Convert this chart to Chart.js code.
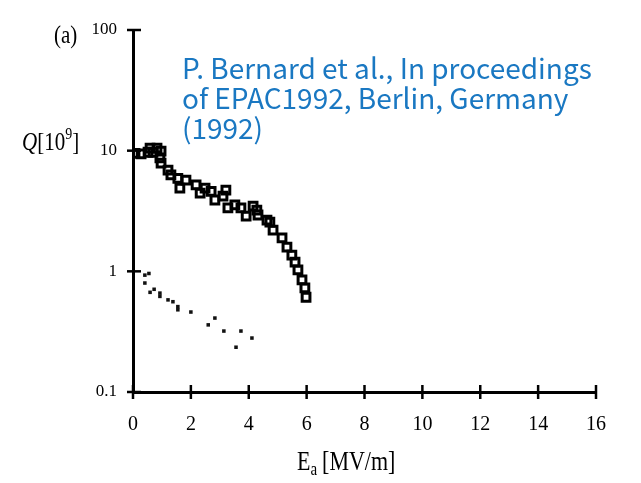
<!DOCTYPE html>
<html>
<head>
<meta charset="utf-8">
<script src="https://cdn.jsdelivr.net/npm/chart.js@4.4.1/dist/chart.umd.min.js"></script>
<style>
  html, body { margin: 0; padding: 0; background: #fff; }
  #wrap { width: 641px; height: 483px; position: relative; }
</style>
</head>
<body>
<div id="wrap"><canvas id="chart" width="641" height="483"></canvas></div>
<script>
// open squares: Q vs Ea (upper curve)
const squareE = [0.07, 0.28, 0.52, 0.59, 0.69, 0.83, 0.97, 0.93, 0.97, 1.21, 1.31, 1.55, 1.62, 1.83,
  2.18, 2.32, 2.49, 2.7, 2.83, 3.11, 3.21, 3.28, 3.52, 3.73, 3.91, 4.15, 4.28, 4.32, 4.63, 4.73,
  4.84, 5.15, 5.32, 5.49, 5.6, 5.7, 5.84, 5.94, 5.98];
const squareQ = [9.5, 9.4, 9.7, 10.5, 9.7, 10.5, 9.9, 8.7, 7.9, 6.9, 6.3, 5.9, 4.9, 5.7,
  5.2, 4.45, 4.9, 4.6, 3.9, 4.2, 4.7, 3.35, 3.55, 3.35, 2.87, 3.47, 3.22, 2.93, 2.66, 2.56,
  2.2, 1.89, 1.59, 1.36, 1.19, 1.03, 0.85, 0.73, 0.61];

// small dots: lower curve
const dotE = [0.41, 0.55, 0.41, 0.59, 0.73, 0.93, 0.93, 1.21, 1.38, 1.55, 1.55, 2.0, 2.6, 2.83, 3.14, 3.56, 3.73, 4.11];
const dotQ = [0.93, 0.96, 0.8, 0.67, 0.71, 0.66, 0.62, 0.58, 0.56, 0.51, 0.48, 0.46, 0.36, 0.41, 0.32, 0.235, 0.32, 0.28];

const xTicks = [0, 2, 4, 6, 8, 10, 12, 14, 16];
const yTicks = [0.1, 1, 10, 100];
const note = ["P. Bernard et al., In proceedings", "of EPAC1992, Berlin, Germany", "(1992)"];

const SERIF = "'Liberation Serif', 'DejaVu Serif', serif";

const extras = {
  id: "extras",
  afterDraw(chart) {
    const { ctx, scales: { x, y } } = chart;
    ctx.save();
    ctx.strokeStyle = "#000";
    ctx.lineWidth = 2.5;
    // tick marks crossing the axes
    xTicks.forEach(v => {
      const px = x.getPixelForValue(v);
      ctx.beginPath();
      ctx.moveTo(px, y.bottom - 7);
      ctx.lineTo(px, y.bottom + 7);
      ctx.stroke();
    });
    yTicks.forEach(v => {
      const py = y.getPixelForValue(v);
      ctx.beginPath();
      ctx.moveTo(x.left - 6, py);
      ctx.lineTo(x.left + 8, py);
      ctx.stroke();
    });

    ctx.fillStyle = "#000";
    ctx.textBaseline = "alphabetic";
    // x title  E_a [MV/m]
    ctx.save();
    ctx.translate(297, 470);
    ctx.scale(1, 1.2);
    ctx.font = "22px " + SERIF;
    ctx.textAlign = "left";
    ctx.fillText("E", 0, 0);
    let w = ctx.measureText("E").width;
    ctx.font = "15px " + SERIF;
    ctx.fillText("a", w, 4);
    w += ctx.measureText("a").width + 5;
    ctx.font = "22px " + SERIF;
    ctx.fillText("[MV/m]", w, 0);
    ctx.restore();

    // y title  Q[10^9]
    ctx.save();
    ctx.translate(22, 150);
    ctx.scale(1, 1.2);
    ctx.font = "italic 21px " + SERIF;
    ctx.fillText("Q", 0, 0);
    w = ctx.measureText("Q").width;
    ctx.font = "21px " + SERIF;
    ctx.fillText("[10", w, 0);
    w += ctx.measureText("[10").width;
    ctx.font = "14px " + SERIF;
    ctx.fillText("9", w, -9);
    w += ctx.measureText("9").width;
    ctx.font = "21px " + SERIF;
    ctx.fillText("]", w, 0);
    ctx.restore();

    // panel label
    ctx.save();
    ctx.translate(54, 43);
    ctx.scale(1, 1.2);
    ctx.font = "21px " + SERIF;
    ctx.fillText("(a)", 0, 0);
    ctx.restore();

    // citation
    ctx.fillStyle = "#1a78c2";
    ctx.font = "28px 'Noto Sans CJK JP', 'Noto Sans', sans-serif";
    note.forEach((line, i) => ctx.fillText(line, 182, 79 + i * 30));
    ctx.restore();
  }
};

new Chart(document.getElementById("chart"), {
  type: "scatter",
  data: {
    datasets: [
      {
        label: "squares",
        data: squareE.map((e, i) => ({ x: e, y: squareQ[i] })),
        pointStyle: "rect",
        pointRadius: 5.5,
        borderWidth: 3,
        borderColor: "#000",
        backgroundColor: "rgba(255,255,255,0)",
      },
      {
        label: "dots",
        data: dotE.map((e, i) => ({ x: e, y: dotQ[i] })),
        pointStyle: "rect",
        pointRadius: 2.5,
        borderWidth: 0,
        backgroundColor: "#111",
      },
    ],
  },
  options: {
    animation: false,
    responsive: false,
    layout: { autoPadding: false, padding: { left: 0, right: 45, top: 30, bottom: 0 } },
    plugins: { legend: { display: false }, tooltip: { enabled: false } },
    scales: {
      x: {
        type: "linear",
        min: 0,
        max: 16,
        afterBuildTicks: s => { s.ticks = xTicks.map(v => ({ value: v })); },
        afterFit: s => { s.height = 91; },
        grid: { display: false },
        border: { display: true, color: "#000", width: 3 },
        ticks: { color: "#000", padding: 13, font: { family: SERIF, size: 20 } },
      },
      y: {
        type: "logarithmic",
        min: 0.1,
        max: 100,
        afterBuildTicks: s => { s.ticks = yTicks.map(v => ({ value: v })); },
        afterFit: s => { s.width = 133; },
        grid: { display: false },
        border: { display: true, color: "#000", width: 3 },
        ticks: {
          color: "#000",
          padding: 8,
          font: { family: SERIF, size: 17 },
          callback: v => String(v),
        },
      },
    },
  },
  plugins: [extras],
});
</script>
</body>
</html>
